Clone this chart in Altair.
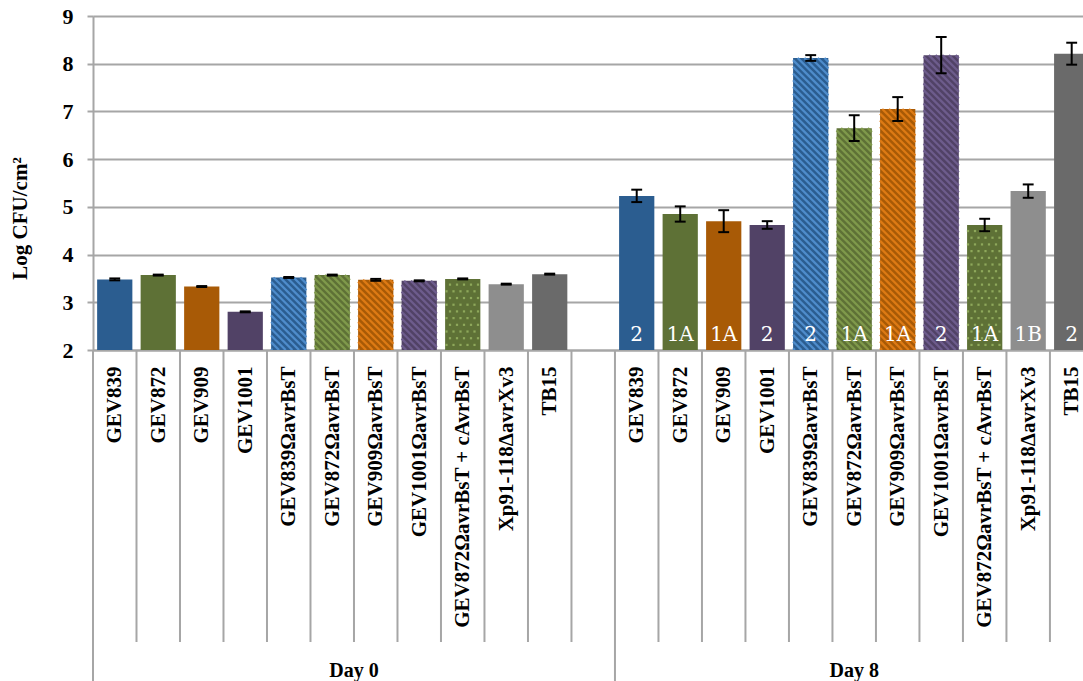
import json
import altair as alt
import pandas as pd

# ---- data -------------------------------------------------------------
strains = [
    "GEV839", "GEV872", "GEV909", "GEV1001",
    "GEV839ΩavrBsT", "GEV872ΩavrBsT", "GEV909ΩavrBsT", "GEV1001ΩavrBsT",
    "GEV872ΩavrBsT + cAvrBsT", "Xp91-118ΔavrXv3", "TB15",
]
days = ["Day 0", "Day 8"]
day0_mean = [3.48, 3.57, 3.33, 2.80, 3.52, 3.57, 3.47, 3.45, 3.49, 3.38, 3.59]
day0_err = [0.02, 0.01, 0.01, 0.01, 0.01, 0.01, 0.02, 0.01, 0.01, 0.01, 0.01]
day8_mean = [5.23, 4.85, 4.70, 4.62, 8.12, 6.65, 7.05, 8.18, 4.62, 5.33, 8.21]
day8_err = [0.13, 0.16, 0.23, 0.08, 0.06, 0.27, 0.25, 0.38, 0.13, 0.14, 0.23]
day8_group = ["2", "1A", "1A", "2", "2", "1A", "1A", "2", "1A", "1B", "2"]
y_ticks = [2, 3, 4, 5, 6, 7, 8, 9]

# ---- styles -----------------------------------------------------------
BLUE, GREEN, ORANGE, PURPLE = "#2B5D90", "#5E7136", "#A85A06", "#514266"
bar_colors = [BLUE, GREEN, ORANGE, PURPLE, BLUE, GREEN, ORANGE, PURPLE,
              GREEN, "#8E8E8E", "#6A6A6A"]
texture = ["solid"] * 4 + ["stripe"] * 4 + ["dot"] + ["solid"] * 2
stripe_colors = {BLUE: "#4E8CCB", GREEN: "#7F994B", ORANGE: "#DD7A14",
                 PURPLE: "#6D5C8C"}
DOT_COLOR = "#8EA85B"
GRID = "#A6A6A6"
SERIF = "Liberation Serif"

W, H = 990, 334              # plot area in pixels
Y_MIN, Y_MAX = 2, 9
X_MAX = 22.76                # slot units visible across the plot
SX = W / X_MAX               # pixels per slot
SY = H / (Y_MAX - Y_MIN)     # pixels per log unit
BAR_PAD = 0.095              # gap either side of a bar, in slots
CAP = 0.125                  # half width of error-bar caps, in slots
STRIPE_STEP = 6.7            # hatch period, px
DOT_DX, DOT_DY = 7.0, 6.7    # dot grid, px

n = len(strains)
slots_per_day = n + 1        # one blank slot between the two days

# ---- bar table --------------------------------------------------------
rows = []
for d, (means, errs) in enumerate([(day0_mean, day0_err), (day8_mean, day8_err)]):
    for i, s in enumerate(strains):
        slot = d * slots_per_day + i
        rows.append({
            "day": days[d], "strain": s, "mean": means[i], "err": errs[i],
            "lo": means[i] - errs[i], "hi": means[i] + errs[i],
            "x0": slot + BAR_PAD, "x1": slot + 1 - BAR_PAD,
            "xc": slot + 0.5, "cl": slot + 0.5 - CAP, "cr": slot + 0.5 + CAP,
            "base": Y_MIN, "fill": bar_colors[i], "texture": texture[i],
            "group": day8_group[i] if d == 1 else "",
        })
bars = pd.DataFrame(rows)

# diagonal hatch lines (top-left to bottom-right) clipped to each striped bar
hatch = []
for r in rows:
    if r["texture"] != "stripe":
        continue
    pa, pb = r["x0"] * SX, r["x1"] * SX
    qa, qb = r["base"] * SY, r["mean"] * SY
    k = int((pa + qa) // STRIPE_STEP)
    while k * STRIPE_STEP < pb + qb:
        c = k * STRIPE_STEP
        p_start, p_end = max(pa, c - qb), min(pb, c - qa)
        if p_end > p_start:
            hatch.append({"x": p_start / SX, "y": (c - p_start) / SY,
                          "x2": p_end / SX, "y2": (c - p_end) / SY,
                          "col": stripe_colors[r["fill"]]})
        k += 1
hatch = pd.DataFrame(hatch)

# dotted fill for the complemented strain
dots = []
for r in rows:
    if r["texture"] != "dot":
        continue
    pa, pb = r["x0"] * SX, r["x1"] * SX
    qa, qb = r["base"] * SY, r["mean"] * SY
    j = int(qa // DOT_DY) + 1
    while j * DOT_DY < qb - 1:
        shift = DOT_DX / 2 if j % 2 else 0.0
        i = int((pa - shift) // DOT_DX) + 1
        while i * DOT_DX + shift < pb - 1:
            dots.append({"x": (i * DOT_DX + shift) / SX, "y": j * DOT_DY / SY})
            i += 1
        j += 1
dots = pd.DataFrame(dots)

# category dividers below the axis; long ones bound the two day groups
bounds = pd.DataFrame({"b": list(range(0, 2 * slots_per_day))})
bounds["long"] = bounds["b"] % slots_per_day == 0
groups = pd.DataFrame({"day": days,
                       "xc": [slots_per_day / 2, slots_per_day + n / 2]})

slot_labels = strains + [""] + strains
label_expr = json.dumps(slot_labels, ensure_ascii=False) + "[floor(datum.value)]"
label_values = [k + 0.5 for k, t in enumerate(slot_labels) if t]

# ---- chart ------------------------------------------------------------
x_scale = alt.Scale(domain=[0, X_MAX], nice=False, zero=False)
y_scale = alt.Scale(domain=[Y_MIN, Y_MAX], nice=False, zero=False)

x_axis = alt.Axis(values=label_values, labelExpr=label_expr, title=None,
                  grid=False, ticks=False, labelAngle=270, labelPadding=16,
                  labelFont=SERIF, labelFontWeight="bold", labelFontSize=21,
                  labelColor="black", labelOverlap=False, labelFlush=False,
                  labelBound=False, labelLimit=600,
                  domainColor=GRID, domainWidth=2)
y_axis = alt.Axis(values=y_ticks, format="d", title="Log CFU/cm²",
                  grid=True, gridColor=GRID, gridWidth=2,
                  tickColor=GRID, tickWidth=2, tickSize=6,
                  domainColor=GRID, domainWidth=2,
                  labelFont=SERIF, labelFontWeight="bold", labelFontSize=22,
                  labelColor="black", labelPadding=14,
                  titleFont=SERIF, titleFontWeight="bold", titleFontSize=21,
                  titleColor="black", titleAngle=270, titleAlign="center",
                  titleBaseline="middle", titleX=-73, titleY=202)

base = alt.Chart(bars)

bar_layer = base.mark_bar(clip=True).encode(
    x=alt.X("x0:Q", scale=x_scale, axis=x_axis),
    x2="x1:Q",
    y=alt.Y("mean:Q", scale=y_scale, axis=y_axis),
    y2="base:Q",
    color=alt.Color("fill:N", scale=None),
)

hatch_layer = alt.Chart(hatch).mark_rule(strokeWidth=2.3, clip=True).encode(
    x="x:Q", x2="x2:Q", y="y:Q", y2="y2:Q",
    color=alt.Color("col:N", scale=None),
)

dot_layer = alt.Chart(dots).mark_square(size=5, opacity=1, clip=True,
                                        color=DOT_COLOR).encode(
    x="x:Q", y="y:Q",
)

err_stem = base.mark_rule(color="black", strokeWidth=2, clip=True).encode(
    x="xc:Q", y="lo:Q", y2="hi:Q")
err_low = base.mark_rule(color="black", strokeWidth=2, clip=True).encode(
    x="cl:Q", x2="cr:Q", y="lo:Q")
err_high = base.mark_rule(color="black", strokeWidth=2, clip=True).encode(
    x="cl:Q", x2="cr:Q", y="hi:Q")

group_text = base.transform_filter("datum.group != ''").mark_text(
    color="white", font="DejaVu Serif", fontSize=20, dy=-9,
    baseline="alphabetic", align="center", clip=True,
).encode(x="xc:Q", y="base:Q", text="group:N")

dividers_short = alt.Chart(bounds).transform_filter("!datum.long").mark_rule(
    color=GRID, strokeWidth=2).encode(
    x="b:Q", y=alt.value(H), y2=alt.value(H + 292))
dividers_long = alt.Chart(bounds).transform_filter("datum.long").mark_rule(
    color=GRID, strokeWidth=2).encode(
    x="b:Q", y=alt.value(H), y2=alt.value(H + 331))

day_text = alt.Chart(groups).mark_text(
    font=SERIF, fontWeight="bold", fontSize=20, color="black",
    baseline="alphabetic", align="center",
).encode(x="xc:Q", y=alt.value(661), text="day:N")

chart = alt.layer(
    bar_layer, hatch_layer, dot_layer, err_stem, err_low, err_high,
    group_text, dividers_short, dividers_long, day_text,
).properties(
    width=W, height=H,
    autosize=alt.AutoSizeParams(type="none"),
    padding={"left": 93, "top": 16, "right": 0, "bottom": 331},
).configure_view(stroke=None).configure(background="white")

chart.save("out.html", embed_options={"renderer": "svg", "actions": False})
